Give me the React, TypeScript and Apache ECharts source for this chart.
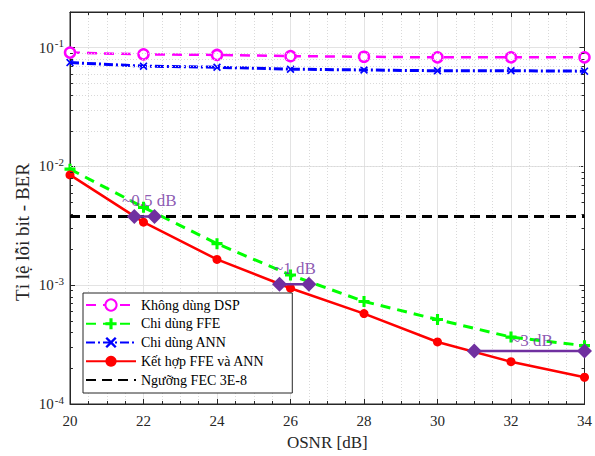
import React, { useEffect, useRef } from 'react';
import * as echarts from 'echarts';

// ---- data ----
const osnr = [20, 22, 24, 26, 28, 30, 32, 34];
const berNoDsp = [0.091, 0.088, 0.087, 0.085, 0.084, 0.083, 0.083, 0.083];
const berFfe = [0.0095, 0.00453, 0.00224, 0.00122, 0.00073, 0.000514, 0.000366, 0.00031];
const berAnn = [0.075, 0.070, 0.0685, 0.066, 0.065, 0.064, 0.064, 0.0635];
const berCombo = [0.0085, 0.0034, 0.00165, 0.000944, 0.000577, 0.000333, 0.000227, 0.000168];
const fecThreshold = 0.0038;
const fecX = [20, 34];

const seriesNames = ['Không dùng DSP', 'Chi dùng FFE', 'Chi dùng ANN', 'Kết hợp FFE và ANN', 'Ngưỡng FEC 3E-8'];

// annotation gaps (x pairs at a given BER)
const gapX = [[21.75, 22.3], [25.7, 26.5], [31.0, 34.0]];
const gapY = [0.0038, 0.00102, 0.00028];
const gapText = ['~0.5 dB', '~1 dB', '~3 dB'];
const gapTextX = [22.16, 26.12, 32.57];
const gapTextY = [0.00514, 0.00139, 0.000341];

const xTicks = { min: 20, max: 34, interval: 2 };
const yRange = { min: 1e-4, max: 0.2 };
const yDecades = [-4, -3, -2];
const yTitle = 'Tỉ lệ lỗi bit - BER';
const xTitle = 'OSNR [dB]';

const FONT = '"Liberation Serif", "Times New Roman", serif';
const PURPLE = '#7030A0';

const plusPath = 'path://M3.6,0 L6.4,0 L6.4,3.6 L10,3.6 L10,6.4 L6.4,6.4 L6.4,10 L3.6,10 L3.6,6.4 L0,6.4 L0,3.6 L3.6,3.6 Z';
const xPath = 'path://M1.5,0 L5,3.5 L8.5,0 L10,1.5 L6.5,5 L10,8.5 L8.5,10 L5,6.5 L1.5,10 L0,8.5 L3.5,5 L0,1.5 Z';

export default function App() {
  const ref = useRef<HTMLDivElement>(null);
  useEffect(() => {
    if (!ref.current) return;
    const chart = echarts.init(ref.current, undefined, { renderer: 'svg' });

    const yMinor: number[] = [];
    yDecades.forEach((e) => {
      for (let m = 2; m <= 9; m++) yMinor.push(m * Math.pow(10, e));
    });

    const pair = (ys: number[]) => osnr.map((x, i) => [x, ys[i]]);

    const axisLineStyle = { color: '#262626', width: 1 };
    const tickLen = 0.08; // minor tick length in x units

    const option: any = {
      animation: false,
      backgroundColor: '#ffffff',
      textStyle: { fontFamily: FONT },
      grid: {
        left: 70, right: 6, top: 12, bottom: 49,
        show: true, borderColor: '#262626', borderWidth: 1, backgroundColor: '#ffffff',
      },
      legend: {
        orient: 'vertical',
        left: 83, top: 293,
        itemWidth: 50, itemHeight: 14, itemGap: 4.75,
        padding: [5, 28, 6, 2],
        borderColor: '#262626', borderWidth: 1, backgroundColor: '#ffffff',
        textStyle: { fontFamily: FONT, fontSize: 14, color: '#000' },
        data: seriesNames,
      },
      graphic: [
        {
          type: 'text', x: 22, y: 232, rotation: Math.PI / 2,
          style: {
            text: yTitle, fontFamily: FONT, fontSize: 19, fill: '#262626',
            align: 'center', verticalAlign: 'middle',
          },
        },
      ],
      xAxis: [
        {
          type: 'value', min: xTicks.min, max: xTicks.max, interval: xTicks.interval,
          position: 'bottom',
          name: xTitle, nameLocation: 'middle', nameGap: 30,
          nameTextStyle: { fontFamily: FONT, fontSize: 17, color: '#262626' },
          axisLine: { show: true, lineStyle: axisLineStyle },
          axisTick: { show: true, inside: true, length: 5, lineStyle: axisLineStyle },
          minorTick: { show: true, splitNumber: 4, length: 3, lineStyle: axisLineStyle },
          axisLabel: { fontFamily: FONT, fontSize: 15, color: '#262626', margin: 9 },
          splitLine: { show: true, lineStyle: { color: '#e3e3e3', width: 1 } },
          minorSplitLine: { show: true, lineStyle: { color: '#d9d9d9', width: 1, type: [1, 2] } },
        },
        {
          type: 'value', min: xTicks.min, max: xTicks.max, interval: xTicks.interval,
          position: 'top',
          axisLine: { show: true, lineStyle: axisLineStyle },
          axisTick: { show: true, inside: true, length: 5, lineStyle: axisLineStyle },
          minorTick: { show: true, splitNumber: 4, length: 3, lineStyle: axisLineStyle },
          axisLabel: { show: false },
          splitLine: { show: false },
        },
      ],
      yAxis: [
        {
          type: 'log', logBase: 10, min: yRange.min, max: yRange.max,
          position: 'left',
          axisLine: { show: true, lineStyle: axisLineStyle },
          axisTick: { show: true, inside: true, length: 5, lineStyle: axisLineStyle },
          axisLabel: {
            margin: 6,
            formatter: (v: number) => {
              const e = Math.log10(v);
              const r = Math.round(e);
              if (Math.abs(e - r) > 1e-6) return '';
              return `{b|10}{s|${r}}`;
            },
            rich: {
              b: { fontFamily: FONT, fontSize: 15, color: '#262626' },
              s: { fontFamily: FONT, fontSize: 11, color: '#262626', padding: [0, 0, 9, 1] },
            },
          },
          splitLine: { show: true, lineStyle: { color: '#e3e3e3', width: 1 } },
        },
        {
          type: 'log', logBase: 10, min: yRange.min, max: yRange.max,
          position: 'right',
          axisLine: { show: true, lineStyle: axisLineStyle },
          axisTick: { show: true, inside: true, length: 5, lineStyle: axisLineStyle },
          axisLabel: { show: false },
          splitLine: { show: false },
        },
      ],
      series: [
        {
          type: 'line', name: '__minor', data: [], silent: true, z: 0,
          markLine: {
            silent: true, symbol: 'none', animation: false,
            label: { show: false },
            lineStyle: { color: '#d9d9d9', width: 1, type: [1, 2] },
            data: yMinor.map((v) => ({ yAxis: v })),
          },
        },
        {
          type: 'line', name: '__minorTicks', data: [], silent: true, z: 1,
          markLine: {
            silent: true, symbol: 'none', animation: false,
            label: { show: false },
            lineStyle: { color: '#262626', width: 1, type: 'solid' },
            data: [
              ...yMinor.map((v) => [{ coord: [xTicks.min, v] }, { coord: [xTicks.min + tickLen, v] }]),
              ...yMinor.map((v) => [{ coord: [xTicks.max - tickLen, v] }, { coord: [xTicks.max, v] }]),
            ],
          },
        },
        {
          type: 'line', name: seriesNames[0], data: pair(berNoDsp),
          color: '#FF00FF',
          lineStyle: { color: '#FF00FF', width: 2.5, type: [10, 7] },
          symbol: 'circle', symbolSize: 10,
          itemStyle: { color: '#ffffff', borderColor: '#FF00FF', borderWidth: 2.5 },
          z: 3,
        },
        {
          type: 'line', name: seriesNames[1], data: pair(berFfe),
          color: '#00FF00',
          lineStyle: { color: '#00FF00', width: 3, type: [10, 7] },
          symbol: plusPath, symbolSize: 11,
          itemStyle: { color: '#00FF00' },
          z: 3,
        },
        {
          type: 'line', name: seriesNames[2], data: pair(berAnn),
          color: '#0000FF',
          lineStyle: { color: '#0000FF', width: 3, type: [9, 3, 2, 3] },
          symbol: xPath, symbolSize: 8,
          itemStyle: { color: '#0000FF' },
          z: 3,
        },
        {
          type: 'line', name: seriesNames[3], data: pair(berCombo),
          color: '#FF0000',
          lineStyle: { color: '#FF0000', width: 2.5 },
          symbol: 'circle', symbolSize: 9,
          itemStyle: { color: '#FF0000' },
          z: 3,
        },
        {
          type: 'line', name: seriesNames[4], data: fecX.map((x) => [x, fecThreshold]),
          color: '#000000',
          lineStyle: { color: '#000000', width: 3, type: [10, 6] },
          symbol: 'none',
          itemStyle: { color: 'rgba(0,0,0,0)', borderWidth: 0 },
          z: 4,
        },
        ...gapX.map((xs, i) => ({
          type: 'line', name: `__gap${i}`, data: xs.map((x) => [x, gapY[i]]),
          color: PURPLE,
          lineStyle: { color: PURPLE, width: 2.5 },
          symbol: 'diamond', symbolSize: [15, 15],
          itemStyle: { color: PURPLE },
          z: 5,
        })),
        {
          type: 'scatter', name: '__gapText', symbolSize: 0, z: 6,
          data: gapText.map((t, i) => ({ value: [gapTextX[i], gapTextY[i]], name: t })),
          label: {
            show: true, position: 'inside', formatter: '{b}',
            fontFamily: FONT, fontSize: 17, color: PURPLE,
          },
        },
      ],
    };

    chart.setOption(option);
    return () => chart.dispose();
  }, []);

  return <div ref={ref} style={{ width: 595, height: 456, position: 'absolute', left: 0, top: 0 }} />;
}
